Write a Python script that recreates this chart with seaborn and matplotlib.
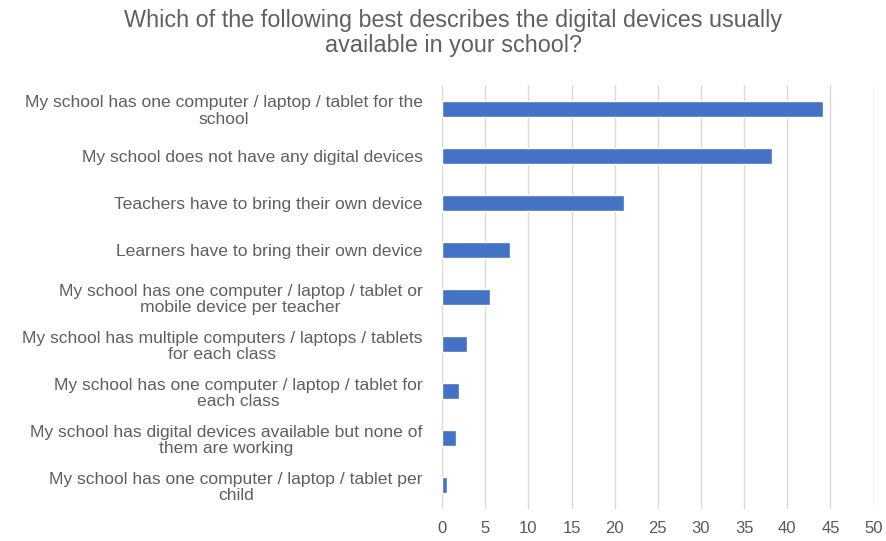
import matplotlib
matplotlib.use("Agg")
import matplotlib.pyplot as plt
import seaborn as sns
import pandas as pd

categories = [
    "My school has one computer / laptop / tablet for the\nschool",
    "My school does not have any digital devices",
    "Teachers have to bring their own device",
    "Learners have to bring their own device",
    "My school has one computer / laptop / tablet or\nmobile device per teacher",
    "My school has multiple computers / laptops / tablets\nfor each class",
    "My school has one computer / laptop / tablet for\neach class",
    "My school has digital devices available but none of\nthem are working",
    "My school has one computer / laptop / tablet per\nchild",
]
values = [44.1, 38.2, 21.1, 7.9, 5.6, 2.9, 1.9, 1.6, 0.55]
xticks = [0, 5, 10, 15, 20, 25, 30, 35, 40, 45, 50]
title = "Which of the following best describes the digital devices usually\navailable in your school?"

df = pd.DataFrame({"category": categories, "value": values})

sns.set_theme(style="white")
plt.rcParams["font.family"] = ["Liberation Sans", "DejaVu Sans"]

fig = plt.figure(figsize=(8.86, 5.41), dpi=100)
ax = fig.add_axes([0.499, 0.060, 0.487, 0.782])

sns.barplot(data=df, y="category", x="value", orient="h", color="#4472C4",
            width=0.35, saturation=1, ax=ax, zorder=3)

ax.set_xlim(0, 50)
ax.set_xticks(xticks)
ax.set_xticklabels([str(t) for t in xticks])
ax.set_xlabel("")
ax.set_ylabel("")
ax.grid(axis="x", color="#d9d9d9", linewidth=1, zorder=0)
ax.grid(axis="y", visible=False)
for s in ax.spines.values():
    s.set_visible(False)
ax.tick_params(axis="both", length=0)
ax.tick_params(axis="x", pad=9, labelsize=12, labelcolor="#595959")
ax.tick_params(axis="y", pad=14, labelsize=12.6, labelcolor="#5f5f5f")
for lbl in ax.get_yticklabels():
    lbl.set_multialignment("center")
    lbl.set_linespacing(1.15)

fig.text(453 / 886, 1 - 33 / 541, title, ha="center", va="center",
         fontsize=16.8, color="#5f5f5f", linespacing=1.13)

fig.savefig("out.png", dpi=100)
